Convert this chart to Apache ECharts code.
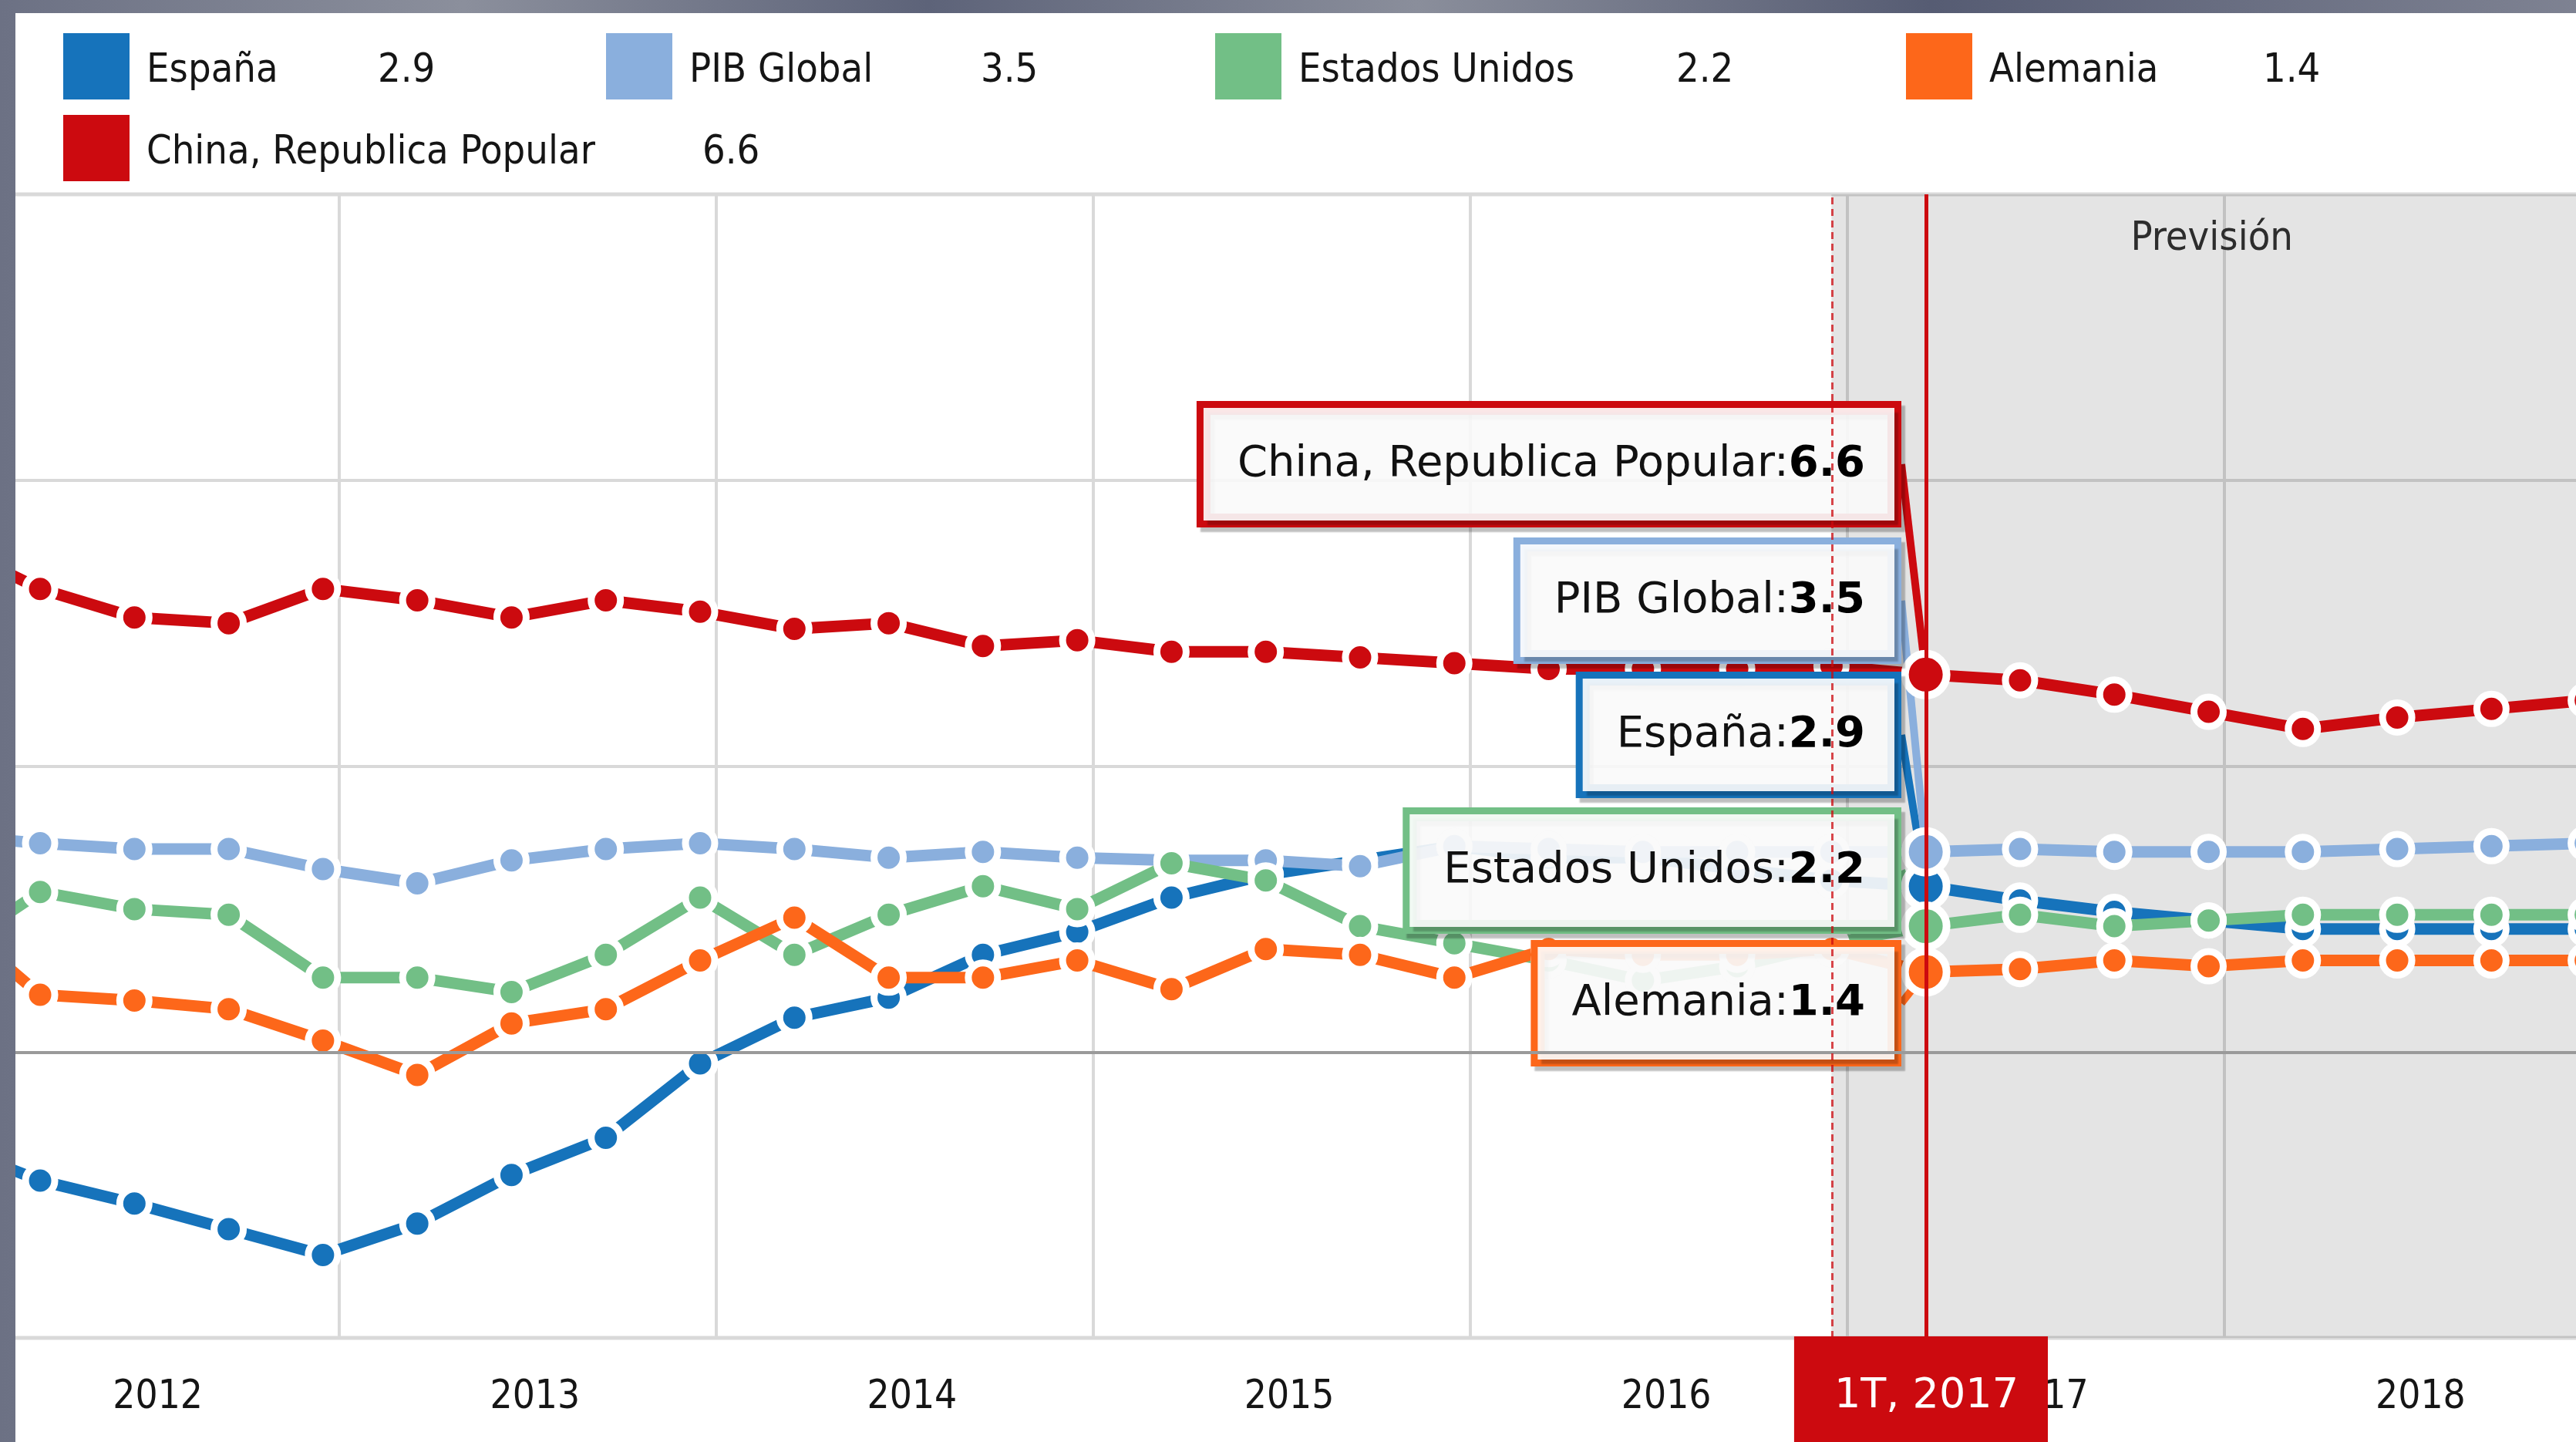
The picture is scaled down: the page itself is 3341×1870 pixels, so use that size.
<!DOCTYPE html>
<html>
<head>
<meta charset="utf-8">
<script src="https://cdn.jsdelivr.net/npm/echarts@6/dist/echarts.min.js"></script>
<style>
  html, body { margin: 0; padding: 0; width: 3341px; height: 1870px; overflow: hidden; }
  body { background: linear-gradient(90deg, #6c7184 0%, #8b8f9c 18%, #5d6379 36%, #8a8e9b 55%, #565c73 75%, #7e8292 100%); }
  #chart { position: absolute; left: 20px; top: 17px; width: 3321px; height: 1853px; background: #fff; }
</style>
</head>
<body>
<div id="chart"></div>
<script>
// trimestres (el primero queda fuera del panel, solo se ve la linea que entra)
const trimestres = [
  '4T 2011',
  '1T 2012', '2T 2012', '3T 2012', '4T 2012',
  '1T 2013', '2T 2013', '3T 2013', '4T 2013',
  '1T 2014', '2T 2014', '3T 2014', '4T 2014',
  '1T 2015', '2T 2015', '3T 2015', '4T 2015',
  '1T 2016', '2T 2016', '3T 2016', '4T 2016',
  '1T 2017', '2T 2017', '3T 2017', '4T 2017',
  '1T 2018', '2T 2018', '3T 2018', '4T 2018'
];
const anios = ['2011', '2012', '2013', '2014', '2015', '2016', '2017', '2018'];

const espana = [-1.6, -2.25, -2.65, -3.1, -3.55, -3.0, -2.15, -1.5, -0.2, 0.6, 0.95, 1.7, 2.1, 2.7, 3.1, 3.35, 3.6, 3.4, 3.4, 3.2, 3.0, 2.9, 2.65, 2.45, 2.3, 2.15, 2.15, 2.15, 2.15];
const pibGlobal = [3.8, 3.65, 3.55, 3.55, 3.2, 2.95, 3.35, 3.55, 3.65, 3.55, 3.4, 3.5, 3.4, 3.35, 3.35, 3.25, 3.6, 3.55, 3.5, 3.5, 3.5, 3.5, 3.55, 3.5, 3.5, 3.5, 3.55, 3.6, 3.65];
const eeuu = [1.7, 2.8, 2.5, 2.4, 1.3, 1.3, 1.05, 1.7, 2.7, 1.7, 2.4, 2.9, 2.5, 3.3, 3.0, 2.2, 1.9, 1.6, 1.25, 1.5, 1.9, 2.2, 2.4, 2.2, 2.3, 2.4, 2.4, 2.4, 2.4];
const alemania = [2.4, 1.0, 0.9, 0.75, 0.2, -0.4, 0.5, 0.75, 1.6, 2.35, 1.3, 1.3, 1.6, 1.1, 1.8, 1.7, 1.3, 1.8, 1.7, 1.7, 1.8, 1.4, 1.45, 1.6, 1.5, 1.6, 1.6, 1.6, 1.6];
const china = [8.9, 8.1, 7.6, 7.5, 8.1, 7.9, 7.6, 7.9, 7.7, 7.4, 7.5, 7.1, 7.2, 7.0, 7.0, 6.9, 6.8, 6.7, 6.7, 6.7, 6.75, 6.6, 6.5, 6.25, 5.95, 5.65, 5.85, 6.0, 6.15];

const nombres = ['España', 'PIB Global', 'Estados Unidos', 'Alemania', 'China, Republica Popular'];
const valores = [espana, pibGlobal, eeuu, alemania, china];
const colores = ['#1673bb', '#8aafdd', '#72bf86', '#fd671a', '#cc0a0f'];

const ultimoReal = '4T 2016';
const activo = '1T 2017';
const xMin = 2011, xMax = 2019;

// layout
const fuenteEstrecha = "'DejaVu Sans Condensed', 'Liberation Sans Narrow', 'Liberation Sans', sans-serif";
const fuenteCaja = "'DejaVu Sans', Verdana, sans-serif";
const leyendaLeft = [62, 766, 1556, 2452, 62];
const leyendaTop = [26, 26, 26, 26, 132];
const leyendaAnchoNombre = [300, 378, 490, 355, 721];
const cajaDerecha = 2437;
const cajaCentro = [936, 762, 1112, 1284, 585];

// '1T 2017' -> 2017 + mitad del ultimo mes del trimestre
function posTrimestre(t) {
  const [q, y] = t.split('T ');
  return +y + (3 * +q - 0.5) / 12;
}
const iActivo = trimestres.indexOf(activo);

const chart = echarts.init(document.getElementById('chart'));

const legends = nombres.map((n, i) => ({
  data: [n],
  left: leyendaLeft[i],
  top: leyendaTop[i],
  padding: 0,
  icon: 'rect',
  itemWidth: 86,
  itemHeight: 86,
  itemStyle: { borderWidth: 0 },
  selectedMode: false,
  formatter: name => `{n|${name}}{v|${valores[i][iActivo]}}`,
  textStyle: {
    padding: [12, 0, 0, 17],
    rich: {
      n: { width: leyendaAnchoNombre[i], fontFamily: fuenteEstrecha, fontSize: 52, color: '#151515' },
      v: { fontFamily: fuenteEstrecha, fontSize: 52, color: '#151515' }
    }
  }
}));

const series = nombres.map((name, i) => ({
  name,
  type: 'line',
  z: 2,
  symbol: 'circle',
  symbolSize: 38,
  showAllSymbol: true,
  lineStyle: { color: colores[i], width: 15 },
  itemStyle: { color: colores[i], borderColor: '#fff', borderWidth: 9 },
  data: trimestres.map((t, k) => {
    const p = { value: [posTrimestre(t), valores[i][k]] };
    if (t === activo) {
      p.symbolSize = 54;
      p.itemStyle = { borderWidth: 10 };
      p.label = { show: true };
    }
    return p;
  }),
  label: {
    show: false,
    formatter: p => `{n|${p.seriesName}:}{v|${p.value[1]}}`,
    backgroundColor: 'rgba(255,255,255,0.9)',
    borderColor: colores[i],
    borderWidth: 9,
    padding: [42, 38, 42, 44],
    shadowColor: 'rgba(0,0,0,0.25)',
    shadowOffsetX: 5,
    shadowOffsetY: 6,
    shadowBlur: 2,
    rich: {
      n: { fontFamily: fuenteCaja, fontSize: 56, lineHeight: 62, color: '#111' },
      v: { fontFamily: fuenteCaja, fontSize: 56, lineHeight: 62, fontWeight: 'bold', color: '#000' }
    }
  },
  labelLine: { show: true, lineStyle: { color: colores[i], width: 10 } },
  labelLayout: () => ({ x: cajaDerecha, y: cajaCentro[i], align: 'right', verticalAlign: 'middle' }),
  emphasis: { disabled: true }
}));

// zona de prevision, linea de cero y lineas verticales
series.unshift({
  name: 'marcas',
  type: 'line',
  z: 1,
  data: [],
  silent: true,
  markArea: {
    silent: true,
    itemStyle: { color: 'rgba(0,0,0,0.105)' },
    label: { show: true, position: 'insideTop', distance: 32, offset: [-6, 0], color: '#2d2d2d', fontFamily: fuenteEstrecha, fontSize: 52 },
    data: [[{ name: 'Previsión', xAxis: posTrimestre(ultimoReal) }, { xAxis: xMax }]]
  },
  markLine: {
    silent: true,
    symbol: ['none', 'none'],
    label: { show: false },
    data: [
      { yAxis: 0, lineStyle: { color: '#9a9a9a', width: 4, type: 'solid' } },
      { xAxis: posTrimestre(ultimoReal), lineStyle: { color: 'rgba(204,10,15,0.75)', width: 3, type: [9, 6] } },
      {
        xAxis: posTrimestre(activo),
        lineStyle: { color: '#cc0a0f', width: 5, type: 'solid' },
        label: {
          show: true,
          position: 'start',
          distance: -2,
          formatter: activo.replace(' ', ', '),
          color: '#fff',
          backgroundColor: '#cc0a0f',
          fontFamily: fuenteCaja,
          fontSize: 54,
          lineHeight: 60,
          padding: [48, 38, 90, 52],
          offset: [-7, 0]
        }
      }
    ]
  }
});

chart.setOption({
  animation: false,
  legend: legends,
  grid: {
    left: -559, right: -33, top: 235, bottom: 135,
    show: true, borderColor: '#d9d9d9', borderWidth: 5,
    containLabel: false, outerBoundsMode: 'none'
  },
  xAxis: [
    {
      type: 'value', min: xMin, max: xMax, interval: 1,
      axisLine: { show: false }, axisTick: { show: false }, axisLabel: { show: false },
      splitLine: { show: true, lineStyle: { color: '#d9d9d9', width: 4 } }
    },
    {
      type: 'category', data: anios, boundaryGap: true, position: 'bottom',
      axisLine: { show: false }, axisTick: { show: false }, splitLine: { show: false },
      axisLabel: { fontFamily: fuenteEstrecha, fontSize: 51, color: '#151515', margin: 52, padding: [0, 0, 0, 20] }
    }
  ],
  yAxis: {
    type: 'value', min: -5, max: 15, interval: 5,
    axisLine: { show: false }, axisTick: { show: false }, axisLabel: { show: false },
    splitLine: { lineStyle: { color: '#d9d9d9', width: 4 } }
  },
  series
});
</script>
</body>
</html>
